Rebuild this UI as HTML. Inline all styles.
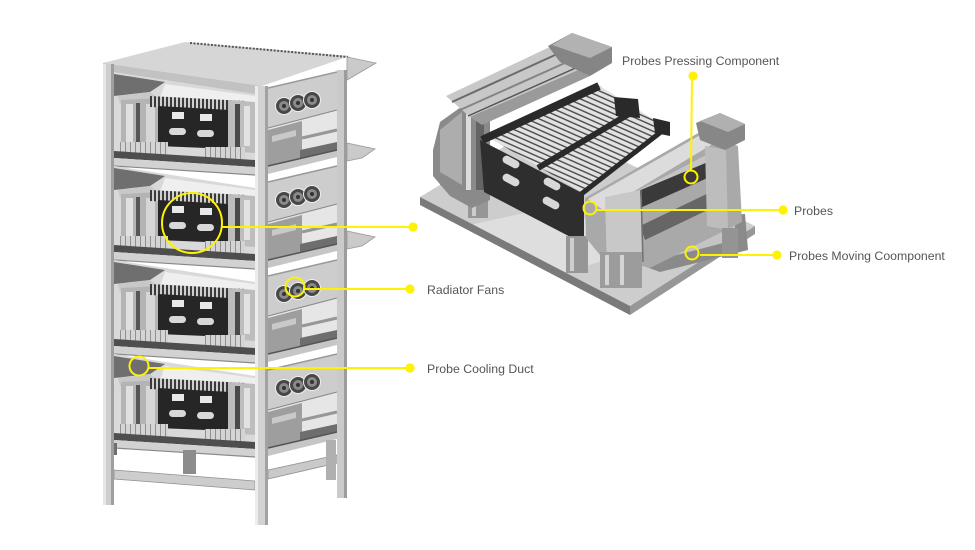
<!DOCTYPE html>
<html><head><meta charset="utf-8">
<style>
html,body{margin:0;padding:0;background:#fff;}
body{width:975px;height:550px;overflow:hidden;position:relative;}
svg{position:absolute;left:0;top:0;}
.lbl{font-family:"Liberation Sans",sans-serif;font-size:12.3px;fill:#555;}
</style></head><body>
<svg width="975" height="550" viewBox="0 0 975 550" xmlns="http://www.w3.org/2000/svg">
<defs>
  <pattern id="cells" patternUnits="userSpaceOnUse" width="6" height="5" patternTransform="rotate(24)">
    <rect width="6" height="5" fill="#4a4a4a"/>
    <rect width="6" height="3.6" fill="#e2e2e2"/>
  </pattern>
  <pattern id="vstr" patternUnits="userSpaceOnUse" width="4" height="6">
    <rect width="4" height="6" fill="#3a3a3a"/>
    <rect width="2" height="6" fill="#cfcfcf"/>
  </pattern>
  <pattern id="feet" patternUnits="userSpaceOnUse" width="5" height="6">
    <rect width="5" height="6" fill="#d4d4d4"/>
    <rect width="1" height="6" fill="#909090"/>
  </pattern>
  <g id="tier">
    <!-- interior backdrop -->
    <polygon points="114,72 255,94 255,160 114,152" fill="#d9d9d9"/>
    <polygon points="114,74 165,82 150,92 114,96" fill="#6f6f6f"/>
    <polygon points="118,96 150,92 160,100 120,104" fill="#c8c8c8"/>
    <polygon points="165,84 255,96 255,102 160,98" fill="#efefef"/>
    <!-- left assembly -->
    <polygon points="121,100 160,98 160,150 121,148" fill="#b4b4b4"/>
    <rect x="126" y="104" width="7" height="40" fill="#e0e0e0"/>
    <rect x="136" y="103" width="4" height="42" fill="#555"/>
    <rect x="146" y="104" width="9" height="40" fill="#d6d6d6"/>
    <!-- cell top strip -->
    <polygon points="150,96 246,101 246,112 150,107" fill="url(#vstr)"/>
    <!-- tray -->
    <polygon points="158,106 230,110 230,149 158,146" fill="#262626"/>
    <rect x="172" y="112" width="12" height="7" fill="#e8e8e8"/>
    <rect x="200" y="114" width="12" height="7" fill="#e8e8e8"/>
    <rect x="169" y="128" width="17" height="7" rx="3.5" fill="#d8d8d8"/>
    <rect x="197" y="130" width="17" height="7" rx="3.5" fill="#d8d8d8"/>
    <!-- right assembly -->
    <polygon points="228,100 255,102 255,153 228,151" fill="#bdbdbd"/>
    <rect x="235" y="104" width="5" height="44" fill="#4a4a4a"/>
    <rect x="244" y="106" width="6" height="40" fill="#e2e2e2"/>
    <!-- feet -->
    <rect x="120" y="142" width="48" height="16" fill="url(#feet)"/>
    <rect x="205" y="147" width="40" height="15" fill="url(#feet)"/>
    <!-- shelf -->
    <polygon points="114,151 255,160 255,167 114,158" fill="#4e4e4e"/>
    <polygon points="114,158 255,167 255,175 114,166" fill="#d2d2d2"/>
    <line x1="114" y1="166" x2="255" y2="175" stroke="#8a8a8a" stroke-width="1.2"/>
    <!-- right side -->
    <polygon points="268,128 337,110 337,152 268,168" fill="#e6e6e6"/>
    <polygon points="268,130 302,121 302,160 268,168" fill="#9e9e9e"/>
    <polygon points="272,136 296,130 296,136 272,142" fill="#c9c9c9"/>
    <line x1="302" y1="138" x2="337" y2="130" stroke="#979797" stroke-width="3"/>
    <polygon points="300,150 337,142 337,150 300,158" fill="#6e6e6e"/>
    <polygon points="268,166 337,150 337,157 268,174" fill="#c6c6c6"/>
    <line x1="268" y1="166" x2="337" y2="150" stroke="#555" stroke-width="1.5"/>
    <!-- fan panel -->
    <polygon points="268,88 337,72 337,110 268,128" fill="#cdcdcd"/>
    <line x1="268" y1="88" x2="337" y2="72" stroke="#999" stroke-width="1.5"/>
    <line x1="268" y1="128" x2="337" y2="110" stroke="#888" stroke-width="1"/>
    <g>
      <circle cx="284" cy="106" r="8.5" fill="#474747" stroke="#eee" stroke-width="1"/>
      <circle cx="284" cy="106" r="5" fill="#8a8a8a"/>
      <circle cx="284" cy="106" r="2" fill="#333"/>
      <circle cx="298" cy="103" r="8.5" fill="#474747" stroke="#eee" stroke-width="1"/>
      <circle cx="298" cy="103" r="5" fill="#8a8a8a"/>
      <circle cx="298" cy="103" r="2" fill="#333"/>
      <circle cx="312" cy="100" r="8.5" fill="#474747" stroke="#eee" stroke-width="1"/>
      <circle cx="312" cy="100" r="5" fill="#8a8a8a"/>
      <circle cx="312" cy="100" r="2" fill="#333"/>
    </g>
  </g>
  <polygon id="wing" points="347,143 375,149 362,158 347,161" fill="#cacaca" stroke="#999" stroke-width="0.8"/>
</defs>

<!-- ================= RACK ================= -->
<!-- top panel -->
<polygon points="103,63 185,42 350,56 262,86" fill="#d6d6d6"/>
<line x1="190" y1="43" x2="348" y2="57" stroke="#555" stroke-width="2" stroke-dasharray="2,1.5"/>
<polygon points="347,57 376,63 347,80" fill="#cacaca" stroke="#999" stroke-width="0.8"/>
<polygon points="103,63 262,86 262,96 103,73" fill="#c2c2c2"/>

<use href="#tier"/>
<use href="#tier" transform="translate(0,94)"/>
<use href="#tier" transform="translate(0,188)"/>
<use href="#tier" transform="translate(0,282)"/>
<use href="#wing"/>
<use href="#wing" transform="translate(0,88)"/>

<!-- bottom area -->
<polygon points="114,455 255,467 255,520 114,500" fill="#ffffff"/>
<rect x="183" y="450" width="13" height="24" fill="#8c8c8c"/>
<polygon points="114,470 255,481 255,490 114,479" fill="#cdcdcd" stroke="#8f8f8f" stroke-width="0.8"/>
<polygon points="268,470 337,455 337,463 268,479" fill="#c9c9c9" stroke="#8f8f8f" stroke-width="0.8"/>
<rect x="103" y="443" width="14" height="12" fill="#6f6f6f"/>
<rect x="326" y="440" width="10" height="40" fill="#b0b0b0"/>

<!-- posts -->
<rect x="103" y="64" width="11" height="441" fill="#cdcdcd"/>
<rect x="103" y="64" width="3" height="441" fill="#e6e6e6"/>
<rect x="111" y="64" width="3" height="441" fill="#9f9f9f"/>
<rect x="255" y="86" width="13" height="439" fill="#d2d2d2"/>
<rect x="255" y="86" width="3" height="439" fill="#ececec"/>
<rect x="265" y="86" width="3" height="439" fill="#a2a2a2"/>
<rect x="337" y="70" width="10" height="428" fill="#cacaca"/>
<rect x="344" y="70" width="3" height="428" fill="#9c9c9c"/>

<!-- ================= RIGHT MACHINE ================= -->
<!-- base plate -->
<polygon points="420,197 545,122 755,226 630,306" fill="#cdcdcd"/>
<polygon points="470,225 560,205 640,248 560,275" fill="#dedede"/>
<polygon points="420,197 630,306 630,315 420,205" fill="#7a7a7a"/>
<polygon points="630,306 755,226 755,234 630,315" fill="#979797"/>

<!-- left feet -->
<rect x="440" y="158" width="18" height="27" fill="#8a8a8a"/>
<rect x="444" y="160" width="4" height="24" fill="#c4c4c4"/>
<rect x="468" y="180" width="20" height="38" fill="#969696"/>
<rect x="472" y="183" width="4" height="33" fill="#cccccc"/>
<!-- left end assembly -->
<polygon points="433,150 440,122 468,102 490,94 490,200 472,208 450,196 433,176" fill="#8a8a8a"/>
<polygon points="440,130 462,112 462,185 440,172" fill="#adadad"/>
<rect x="466" y="110" width="5" height="80" fill="#dcdcdc"/>
<rect x="476" y="105" width="8" height="85" fill="#646464"/>
<!-- top rail assembly -->
<polygon points="446,96 556,44 588,55 578,70 470,117" fill="#c8c8c8"/>
<line x1="452" y1="102" x2="566" y2="50" stroke="#6a6a6a" stroke-width="2"/>
<line x1="460" y1="110" x2="576" y2="58" stroke="#858585" stroke-width="2"/>
<line x1="468" y1="116" x2="580" y2="66" stroke="#555" stroke-width="1.5"/>
<polygon points="470,117 578,70 590,76 482,125" fill="#9a9a9a"/>
<!-- top motor -->
<polygon points="548,46 572,33 612,47 612,63 590,76 560,62" fill="#858585"/>
<polygon points="572,33 612,47 590,58 552,45" fill="#b2b2b2"/>
<!-- cells -->
<polygon points="486,136 598,85 666,127 582,192" fill="url(#cells)"/>
<line x1="482" y1="140" x2="599" y2="86" stroke="#2a2a2a" stroke-width="8"/>
<line x1="538" y1="168" x2="634" y2="111" stroke="#2a2a2a" stroke-width="6"/>
<line x1="580" y1="195" x2="666" y2="128" stroke="#2a2a2a" stroke-width="5"/>
<polygon points="614,97 638,99 640,118 616,116" fill="#2a2a2a"/>
<polygon points="653,118 670,122 670,136 655,133" fill="#2a2a2a"/>
<!-- front black wall -->
<polygon points="480,140 584,194 584,244 484,192" fill="#2e2e2e"/>
<g fill="#d8d8d8">
  <rect x="502" y="158" width="18" height="8" rx="4" transform="rotate(28 511 162)"/>
  <rect x="502" y="176" width="18" height="8" rx="4" transform="rotate(28 511 180)"/>
  <rect x="543" y="180" width="18" height="8" rx="4" transform="rotate(28 552 184)"/>
  <rect x="542" y="199" width="18" height="8" rx="4" transform="rotate(28 551 203)"/>
</g>
<!-- feet under wall -->
<rect x="566" y="236" width="22" height="37" fill="#969696"/>
<rect x="570" y="238" width="4" height="33" fill="#cecece"/>

<!-- right assembly -->
<polygon points="627,222 745,214 748,250 660,272 627,260" fill="#8a8a8a"/>
<polygon points="650,235 735,222 735,240 665,258" fill="#c4c4c4"/>
<polygon points="585,198 700,132 738,146 742,222 650,268 600,255 586,238" fill="#a9a9a9"/>
<polygon points="588,199 702,134 716,142 603,210" fill="#dcdcdc"/>
<polygon points="620,200 708,154 712,170 624,214" fill="#c4c4c4"/>
<polygon points="636,192 708,162 712,176 640,208" fill="#3a3a3a"/>
<polygon points="640,226 715,190 718,205 645,240" fill="#666"/>
<polygon points="605,197 640,190 643,262 607,272" fill="#c8c8c8"/>
<line x1="641" y1="190" x2="643" y2="262" stroke="#707070" stroke-width="1.5"/>
<polygon points="705,146 726,150 728,230 707,226" fill="#bdbdbd"/>
<polygon points="696,123 720,113 745,124 745,140 725,150 700,140" fill="#878787"/>
<polygon points="720,113 745,124 728,132 700,121" fill="#b0b0b0"/>
<!-- legs -->
<rect x="600" y="252" width="42" height="36" fill="#9c9c9c"/>
<rect x="605" y="255" width="4" height="30" fill="#d4d4d4"/>
<rect x="620" y="255" width="4" height="30" fill="#d4d4d4"/>
<rect x="722" y="228" width="16" height="30" fill="#949494"/>

<!-- ================= ANNOTATIONS ================= -->
<g stroke="#fff200" stroke-width="2" fill="none">
  <circle cx="192" cy="223" r="30"/>
  <line x1="222" y1="227" x2="413" y2="227"/>
  <circle cx="295" cy="287" r="9.5"/>
  <line x1="305" y1="289" x2="410" y2="289"/>
  <circle cx="139" cy="366" r="9.5"/>
  <line x1="149" y1="368" x2="410" y2="368"/>
  <line x1="692" y1="76" x2="691" y2="171"/>
  <circle cx="691" cy="177" r="6.5"/>
  <circle cx="590" cy="208" r="6.5"/>
  <line x1="597" y1="210" x2="783" y2="210"/>
  <circle cx="692" cy="253" r="6.5"/>
  <line x1="700" y1="255" x2="777" y2="255"/>
</g>
<g fill="#fff200">
  <circle cx="413" cy="227" r="4.6"/>
  <circle cx="410" cy="289" r="4.6"/>
  <circle cx="410" cy="368" r="4.6"/>
  <circle cx="693" cy="76" r="4.6"/>
  <circle cx="783" cy="210" r="4.6"/>
  <circle cx="777" cy="255" r="4.6"/>
</g>
<text class="lbl" x="427" y="294">Radiator Fans</text>
<text class="lbl" x="427" y="373">Probe Cooling Duct</text>
<text class="lbl" x="622" y="65">Probes Pressing Component</text>
<text class="lbl" x="794" y="215">Probes</text>
<text class="lbl" x="789" y="260">Probes Moving Coomponent</text>
</svg>
</body></html>
